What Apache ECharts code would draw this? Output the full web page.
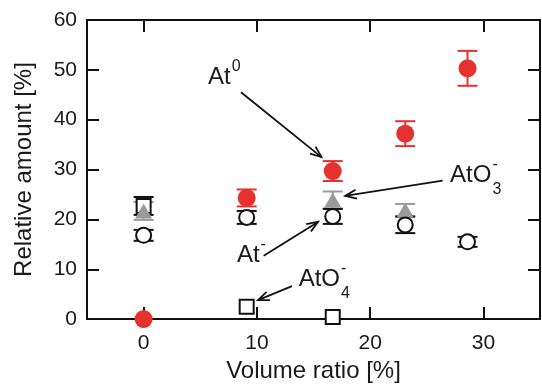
<!DOCTYPE html>
<html>
<head>
<meta charset="utf-8">
<script src="https://cdn.jsdelivr.net/npm/echarts@6/dist/echarts.min.js"></script>
<style>
  html, body { margin: 0; padding: 0; background: #fff; }
  #main { width: 542px; height: 388px; }
</style>
</head>
<body>
<div id="main"></div>
<script>
// 数据（体积比 = 1/11, 2/12, 3/13, 4/14）
const xTicks = [0, 10, 20, 30];
const at0X = [0, 9.1, 16.7, 23.1, 28.6];
const at0 = [0, 24.3, 29.7, 37.2, 50.3];
const at0Err = [0, 1.7, 2.0, 2.5, 3.5];
const atMinusX = [0, 9.1, 16.7, 23.1, 28.6];
const atMinus = [16.8, 20.4, 20.6, 18.9, 15.5];
const atMinusErr = [1.1, 1.3, 1.5, 1.65, 1.0];
const atO3X = [0, 16.7, 23.1];
const atO3 = [21.7, 23.9, 21.9];
const atO3Err = [1.8, 1.7, 1.2];
const atO4X = [0, 9.1, 16.7];
const atO4 = [22.7, 2.5, 0.4];
const atO4Err = [1.8, 0, 0];

// 注释箭头（数据坐标：起点 -> 终点）
const arrows = [
  [[8.6, 45.5], [15.7, 32.5]],
  [[26.4, 27.8], [17.8, 24.7]],
  [[10.6, 12.7], [15.4, 19.5]],
  [[13.1, 6.6], [10.1, 3.8]]
];
// 注释文字（数据坐标，基本文字 + 上标/下标）
const labels = [
  { pos: [5.69, 48.4], base: 'At', sup: '0', sub: '' },
  { pos: [27.06, 28.8], base: 'AtO', sup: '-', sub: '3' },
  { pos: [8.24, 12.8], base: 'At', sup: '-', sub: '' },
  { pos: [13.69, 7.95], base: 'AtO', sup: '-', sub: '4' }
];

const FONT = 'Liberation Sans, Arial, sans-serif';
const RED = '#e5322e';
const GRAY = '#9a9a9a';

var chart = echarts.init(document.getElementById('main'));

function pairs(xs, ys, errs) {
  return xs.map(function (x, i) { return [x, ys[i], errs[i]]; });
}

// 误差棒
function errorSeries(xs, ys, errs, color) {
  return {
    type: 'custom',
    silent: true,
    renderItem: function (params, api) {
      const x = api.value(0), y = api.value(1), e = api.value(2);
      if (!e) return;
      const top = api.coord([x, y + e]);
      const bot = api.coord([x, y - e]);
      const hw = 10;
      const st = { stroke: color, lineWidth: 2 };
      return {
        type: 'group',
        children: [
          { type: 'line', shape: { x1: top[0], y1: top[1], x2: bot[0], y2: bot[1] }, style: st },
          { type: 'line', shape: { x1: top[0] - hw, y1: top[1], x2: top[0] + hw, y2: top[1] }, style: st },
          { type: 'line', shape: { x1: bot[0] - hw, y1: bot[1], x2: bot[0] + hw, y2: bot[1] }, style: st }
        ]
      };
    },
    data: pairs(xs, ys, errs)
  };
}

const baseAxis = {
  axisLine: { show: true, onZero: false, lineStyle: { color: '#111', width: 2 } },
  axisTick: { show: true, inside: true, length: 12, lineStyle: { color: '#111', width: 2 } },
  splitLine: { show: false }
};

const option = {
  animation: false,
  backgroundColor: '#fff',
  grid: { left: 87, right: 2, top: 20, bottom: 66 },
  xAxis: [
    Object.assign({}, baseAxis, {
      type: 'value', min: -5, max: 35, position: 'bottom',
      name: 'Volume ratio [%]', nameLocation: 'middle', nameGap: 36,
      nameTextStyle: { fontFamily: FONT, fontSize: 24, color: '#1a1a1a' },
      axisTick: Object.assign({}, baseAxis.axisTick, { customValues: xTicks }),
      axisLabel: { customValues: xTicks, margin: 14, fontFamily: FONT, fontSize: 21, color: '#1a1a1a' }
    }),
    Object.assign({}, baseAxis, {
      type: 'value', min: -5, max: 35, position: 'top',
      axisTick: Object.assign({}, baseAxis.axisTick, { customValues: xTicks }),
      axisLabel: { show: false }
    })
  ],
  yAxis: [
    Object.assign({}, baseAxis, {
      type: 'value', min: 0, max: 60, interval: 10, position: 'left',
      name: 'Relative amount [%]', nameLocation: 'middle', nameGap: 51,
      nameTextStyle: { fontFamily: FONT, fontSize: 24, color: '#1a1a1a' },
      axisLabel: { margin: 10, fontFamily: FONT, fontSize: 21, color: '#1a1a1a' }
    }),
    Object.assign({}, baseAxis, {
      type: 'value', min: 0, max: 60, interval: 10, position: 'right',
      axisLabel: { show: false }
    })
  ],
  series: [
    errorSeries(atO4X, atO4, atO4Err, '#111'),
    {
      name: 'AtO4-', type: 'scatter', symbol: 'rect', symbolSize: 14,
      itemStyle: { color: '#fff', borderColor: '#111', borderWidth: 2, opacity: 1 },
      data: pairs(atO4X, atO4, atO4Err)
    },
    errorSeries(atO3X, atO3, atO3Err, GRAY),
    {
      name: 'AtO3-', type: 'scatter', symbol: 'triangle', symbolSize: [17, 15],
      itemStyle: { color: GRAY, opacity: 1 },
      data: pairs(atO3X, atO3, atO3Err)
    },
    errorSeries(atMinusX, atMinus, atMinusErr, '#111'),
    {
      name: 'At-', type: 'scatter', symbol: 'circle', symbolSize: 15,
      itemStyle: { color: '#fff', borderColor: '#111', borderWidth: 2, opacity: 1 },
      data: pairs(atMinusX, atMinus, atMinusErr)
    },
    errorSeries(at0X, at0, at0Err, RED),
    {
      name: 'At0', type: 'scatter', symbol: 'circle', symbolSize: 18,
      itemStyle: { color: RED, opacity: 1 },
      data: pairs(at0X, at0, at0Err)
    }
  ]
};

chart.setOption(option);

// 注释：箭头与文字
function px(p) { return chart.convertToPixel({ gridIndex: 0 }, p); }

const graphics = [];
arrows.forEach(function (a) {
  const s = px(a[0]), e = px(a[1]);
  const ang = Math.atan2(e[1] - s[1], e[0] - s[0]);
  const len = 12, spread = 0.38;
  const w1 = [e[0] - len * Math.cos(ang - spread), e[1] - len * Math.sin(ang - spread)];
  const w2 = [e[0] - len * Math.cos(ang + spread), e[1] - len * Math.sin(ang + spread)];
  const st = { stroke: '#111', lineWidth: 1.8, fill: null };
  graphics.push({ type: 'line', shape: { x1: s[0], y1: s[1], x2: e[0], y2: e[1] }, style: st, z: 100 });
  graphics.push({ type: 'polyline', shape: { points: [w1, e, w2] }, style: st, z: 100 });
});

const measure = document.createElement('canvas').getContext('2d');
measure.font = '24px ' + FONT;
labels.forEach(function (l) {
  const p = px(l.pos);
  const w = measure.measureText(l.base).width;
  graphics.push({
    type: 'text', x: p[0], y: p[1], z: 100,
    style: { text: l.base, fontFamily: FONT, fontSize: 24, fill: '#1a1a1a', align: 'left', verticalAlign: 'middle' }
  });
  if (l.sup) {
    graphics.push({
      type: 'text', x: p[0] + w + 1, y: p[1] - 11, z: 100,
      style: { text: l.sup, fontFamily: FONT, fontSize: 16, fill: '#1a1a1a', align: 'left', verticalAlign: 'middle' }
    });
  }
  if (l.sub) {
    graphics.push({
      type: 'text', x: p[0] + w + 1, y: p[1] + 14, z: 100,
      style: { text: l.sub, fontFamily: FONT, fontSize: 16, fill: '#1a1a1a', align: 'left', verticalAlign: 'middle' }
    });
  }
});

chart.setOption({ graphic: graphics });
</script>
</body>
</html>
